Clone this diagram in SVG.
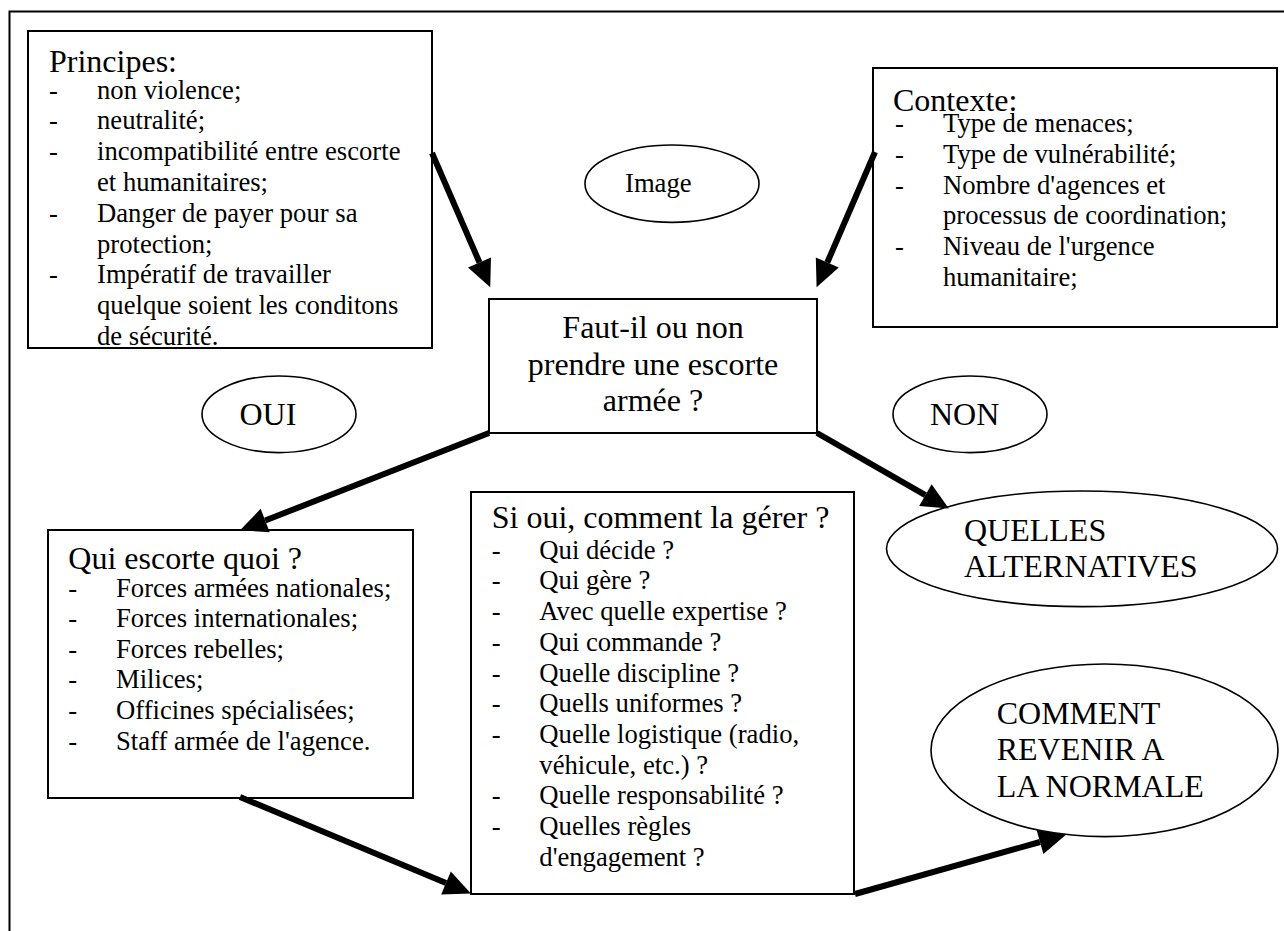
<svg xmlns="http://www.w3.org/2000/svg" width="1284" height="931" viewBox="0 0 1284 931">
  <style>
    text { font-family: "Liberation Serif", "Times New Roman", serif; fill: #000; }
    .h { font-size: 32px; }
    .li { font-size: 26.67px; }
    .box { fill: #fff; stroke: #000; stroke-width: 2; }
    .oval { fill: #fff; stroke: #000; stroke-width: 1.6; }
    .arrow { stroke: #000; stroke-width: 6; fill: none; marker-end: url(#head); }
  </style>
  <defs>
    <marker id="head" markerUnits="userSpaceOnUse" markerWidth="28" markerHeight="26" refX="0" refY="12.5" orient="auto" overflow="visible">
      <path d="M0,0 L27,12.5 L0,25 z" fill="#000"/>
    </marker>
  </defs>

  <rect width="1284" height="931" fill="#fff"/>
  <!-- page frame -->
  <path d="M9.5,940 V11.5 H1290" fill="none" stroke="#000" stroke-width="2"/>

  <g id="principes">
    <rect class="box" x="28" y="31" width="404" height="317"/>
    <text class="h" x="49" y="72">Principes:</text>
    <g class="li">
      <text x="49" y="98.5">-</text><text x="97" y="98.5">non violence;</text>
      <text x="49" y="129.3">-</text><text x="97" y="129.3">neutralité;</text>
      <text x="49" y="160.1">-</text><text x="97" y="160.1">incompatibilité entre escorte</text>
      <text x="97" y="190.9">et humanitaires;</text>
      <text x="49" y="221.7">-</text><text x="97" y="221.7">Danger de payer pour sa</text>
      <text x="97" y="252.5">protection;</text>
      <text x="49" y="283.3">-</text><text x="97" y="283.3">Impératif de travailler</text>
      <text x="97" y="314.1">quelque soient les conditons</text>
      <text x="97" y="344.9">de sécurité.</text>
    </g>
  </g>

  <g id="contexte">
    <rect class="box" x="873" y="68" width="404" height="259"/>
    <text class="h" x="893" y="111">Contexte:</text>
    <g class="li">
      <text x="895" y="132">-</text><text x="943" y="132">Type de menaces;</text>
      <text x="895" y="162.7">-</text><text x="943" y="162.7">Type de vulnérabilité;</text>
      <text x="895" y="193.5">-</text><text x="943" y="193.5">Nombre d'agences et</text>
      <text x="943" y="224.3">processus de coordination;</text>
      <text x="895" y="255">-</text><text x="943" y="255">Niveau de l'urgence</text>
      <text x="943" y="285.7">humanitaire;</text>
    </g>
  </g>

  <g id="image">
    <ellipse class="oval" cx="672" cy="183.7" rx="87" ry="38.7"/>
    <text class="li" x="625" y="191.5">Image</text>
  </g>

  <g id="question">
    <rect class="box" x="489" y="299" width="328" height="134"/>
    <g class="h" text-anchor="middle">
      <text x="653" y="338.3">Faut-il ou non</text>
      <text x="653" y="374.5">prendre une escorte</text>
      <text x="653" y="410.5">armée ?</text>
    </g>
  </g>

  <g id="oui">
    <ellipse class="oval" cx="279" cy="414.3" rx="77" ry="38.3"/>
    <text class="h" x="239.5" y="425">OUI</text>
  </g>

  <g id="non">
    <ellipse class="oval" cx="970" cy="414.3" rx="77" ry="38.3"/>
    <text class="h" x="930" y="424.5">NON</text>
  </g>

  <g id="alternatives">
    <ellipse class="oval" cx="1082" cy="548.8" rx="195.5" ry="57.8"/>
    <text class="h" x="964" y="540.5">QUELLES</text>
    <text class="h" x="964" y="576.5">ALTERNATIVES</text>
  </g>

  <g id="qui-escorte">
    <rect class="box" x="48" y="530" width="365" height="268"/>
    <text class="h" x="68.3" y="568.5">Qui escorte quoi ?</text>
    <g class="li">
      <text x="68.3" y="596.5">-</text><text x="116" y="596.5">Forces armées nationales;</text>
      <text x="68.3" y="627.1">-</text><text x="116" y="627.1">Forces internationales;</text>
      <text x="68.3" y="657.7">-</text><text x="116" y="657.7">Forces rebelles;</text>
      <text x="68.3" y="688.3">-</text><text x="116" y="688.3">Milices;</text>
      <text x="68.3" y="718.9">-</text><text x="116" y="718.9">Officines spécialisées;</text>
      <text x="68.3" y="749.5">-</text><text x="116" y="749.5">Staff armée de l'agence.</text>
    </g>
  </g>

  <g id="gestion">
    <rect class="box" x="471" y="492" width="383" height="402"/>
    <text class="h" x="491.7" y="528">Si oui, comment la gérer ?</text>
    <g class="li">
      <text x="491.7" y="558.7">-</text><text x="539.3" y="558.7">Qui décide ?</text>
      <text x="491.7" y="589.4">-</text><text x="539.3" y="589.4">Qui gère ?</text>
      <text x="491.7" y="620.1">-</text><text x="539.3" y="620.1">Avec quelle expertise ?</text>
      <text x="491.7" y="650.8">-</text><text x="539.3" y="650.8">Qui commande ?</text>
      <text x="491.7" y="681.5">-</text><text x="539.3" y="681.5">Quelle discipline ?</text>
      <text x="491.7" y="712.2">-</text><text x="539.3" y="712.2">Quells uniformes ?</text>
      <text x="491.7" y="742.9">-</text><text x="539.3" y="742.9">Quelle logistique (radio,</text>
      <text x="539.3" y="773.6">véhicule, etc.) ?</text>
      <text x="491.7" y="804.3">-</text><text x="539.3" y="804.3">Quelle responsabilité ?</text>
      <text x="491.7" y="835">-</text><text x="539.3" y="835">Quelles règles</text>
      <text x="539.3" y="865.7">d'engagement ?</text>
    </g>
  </g>

  <g id="normale">
    <ellipse class="oval" cx="1104.5" cy="750.3" rx="173.5" ry="86.3"/>
    <text class="h" x="996.7" y="723.5">COMMENT</text>
    <text class="h" x="996.7" y="760">REVENIR A</text>
    <text class="h" x="996.7" y="796.5">LA NORMALE</text>
  </g>

  <g id="connectors">
    <line class="arrow" x1="432" y1="153" x2="479.5" y2="262.5"/>
    <line class="arrow" x1="875" y1="152" x2="827.3" y2="262.5"/>
    <line class="arrow" x1="489" y1="433" x2="265.2" y2="520.5"/>
    <line class="arrow" x1="817" y1="433" x2="925.4" y2="495.1"/>
    <line class="arrow" x1="240" y1="797" x2="446" y2="883"/>
    <line class="arrow" x1="855" y1="894" x2="1040" y2="842"/>
  </g>
</svg>
